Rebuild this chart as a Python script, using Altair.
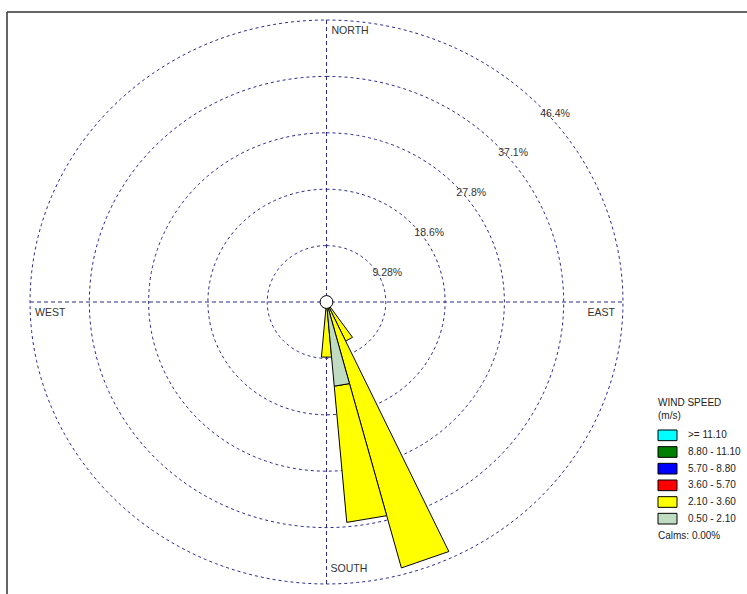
import math
import numpy as np
import pandas as pd
import altair as alt

# ---- data ----
directions = [150, 160, 170, 180]          # sector centre, degrees clockwise from north
speed_050_210 = [0.5, 0.8, 13.9, 0.6]      # % frequency, 0.50 - 2.10 m/s
speed_210_360 = [6.6, 44.5, 22.5, 8.5]     # % frequency, 2.10 - 3.60 m/s
sector_width = 10

ring_values = [9.28, 18.56, 27.84, 37.12, 46.4]
ring_labels = ["9.28%", "18.6%", "27.8%", "37.1%", "46.4%"]

legend_labels = [">= 11.10", "8.80 - 11.10", "5.70 - 8.80", "3.60 - 5.70", "2.10 - 3.60", "0.50 - 2.10"]
legend_colors = ["#00ffff", "#008000", "#0000ff", "#ff0000", "#ffff00", "#c0dcc0"]
legend_title = ["WIND SPEED", "(m/s)"]
calms_text = "Calms: 0.00%"

RMAX = ring_values[-1]
FONT = "Liberation Sans"
GRID = "#2b2b8f"

xs = alt.Scale(domain=[-RMAX, RMAX], nice=False, zero=False)
ys = alt.Scale(domain=[-RMAX, RMAX], nice=False, zero=False)

# ---- wedge polygons ----
rows = []
pid = 0
for d, g, yl in zip(directions, speed_050_210, speed_210_360):
    for b, r0, r1 in [("0.50 - 2.10", 0.0, g), ("2.10 - 3.60", g, g + yl)]:
        a1 = math.radians(d - sector_width / 2)
        a2 = math.radians(d + sector_width / 2)
        pts = [(r0, a1), (r1, a1), (r1, a2), (r0, a2), (r0, a1)]
        for k, (r, a) in enumerate(pts):
            rows.append(dict(poly=pid, bin=b, k=k, x=r * math.sin(a), y=r * math.cos(a)))
        pid += 1
poly_df = pd.DataFrame(rows)


def poly_layer(bin_label, color):
    return alt.Chart(poly_df[poly_df["bin"] == bin_label]).mark_line(
        fill=color, stroke="black", strokeWidth=1, strokeJoin="miter"
    ).encode(
        x=alt.X("x:Q", scale=xs, axis=None),
        y=alt.Y("y:Q", scale=ys, axis=None),
        detail="poly:N",
        order="k:Q",
    )


# ---- rings ----
ang = np.arange(0, 361, 2)
ring_rows = []
for r in ring_values:
    for i, a in enumerate(ang):
        t = math.radians(a)
        ring_rows.append(dict(ring=r, k=i, x=r * math.sin(t), y=r * math.cos(t)))
ring_df = pd.DataFrame(ring_rows)

rings = alt.Chart(ring_df).mark_line(color=GRID, strokeWidth=1, strokeDash=[3, 3]).encode(
    x=alt.X("x:Q", scale=xs, axis=None),
    y=alt.Y("y:Q", scale=ys, axis=None),
    detail="ring:N",
    order="k:Q",
)

axes_df = pd.DataFrame({"x": [-RMAX, 0], "x2": [RMAX, 0], "y": [0, -RMAX], "y2": [0, RMAX]})
axes_lines = alt.Chart(axes_df).mark_rule(color=GRID, strokeWidth=1, strokeDash=[4, 3]).encode(
    x=alt.X("x:Q", scale=xs, axis=None), x2="x2:Q",
    y=alt.Y("y:Q", scale=ys, axis=None), y2="y2:Q",
)

# ---- ring labels along 45 degrees ----
lab_t = math.radians(45)
ring_lab_df = pd.DataFrame({
    "label": ring_labels,
    "x": [r * math.sin(lab_t) for r in ring_values],
    "y": [r * math.cos(lab_t) for r in ring_values],
})
ring_text = alt.Chart(ring_lab_df).mark_text(
    align="left", baseline="middle", dx=4, dy=11, font=FONT, fontSize=10.5, color="#333"
).encode(x=alt.X("x:Q", scale=xs, axis=None), y=alt.Y("y:Q", scale=ys, axis=None), text="label:N")


def dir_text(df, align, dx, dy):
    return alt.Chart(df).mark_text(
        align=align, baseline="middle", dx=dx, dy=dy, font=FONT, fontSize=10.5, color="#333"
    ).encode(x=alt.X("x:Q", scale=xs, axis=None), y=alt.Y("y:Q", scale=ys, axis=None), text="label:N")


nw_df = pd.DataFrame({"label": ["NORTH", "WEST"], "x": [0, -RMAX], "y": [RMAX, 0]})
s_df = pd.DataFrame({"label": ["SOUTH"], "x": [0], "y": [-RMAX]})
e_df = pd.DataFrame({"label": ["EAST"], "x": [RMAX], "y": [0]})

calm_circle = alt.Chart(pd.DataFrame({"x": [0], "y": [0]})).mark_point(
    shape="circle", size=165, filled=True, fill="white", stroke="black", strokeWidth=1, opacity=1
).encode(x=alt.X("x:Q", scale=xs, axis=None), y=alt.Y("y:Q", scale=ys, axis=None))

# ---- legend ----
leg_df = pd.DataFrame({"label": legend_labels, "color": legend_colors})
leg_y = alt.Scale(domain=legend_labels, range=[410, 504], paddingInner=0.36, paddingOuter=0)
swatches = alt.Chart(leg_df).mark_rect(stroke="black", strokeWidth=1).encode(
    x=alt.value(628), x2=alt.value(647),
    y=alt.Y("label:N", sort=None, scale=leg_y, axis=None),
    fill=alt.Fill("color:N", scale=None),
)
swatch_text = alt.Chart(leg_df).mark_text(
    align="left", baseline="middle", font=FONT, fontSize=10, color="#222"
).encode(
    x=alt.value(658),
    y=alt.Y("label:N", sort=None, scale=leg_y, axis=None),
    text="label:N",
)
legend = alt.layer(swatches, swatch_text)

one = pd.DataFrame({"t": [0]})
title1 = alt.Chart(one).mark_text(align="left", baseline="middle", font=FONT, fontSize=10, color="#222",
                                  text=legend_title[0]).encode(x=alt.value(628), y=alt.value(383))
title2 = alt.Chart(one).mark_text(align="left", baseline="middle", font=FONT, fontSize=10, color="#222",
                                  text=legend_title[1]).encode(x=alt.value(628), y=alt.value(396))
calms = alt.Chart(one).mark_text(align="left", baseline="middle", font=FONT, fontSize=10, color="#222",
                                 text=calms_text).encode(x=alt.value(628), y=alt.value(516))

# ---- frame ----
frame_top = alt.Chart(one).mark_rule(color="#333", strokeWidth=1.5).encode(
    x=alt.value(-23), x2=alt.value(717), y=alt.value(-8))
frame_left = alt.Chart(one).mark_rule(color="#333", strokeWidth=1.5).encode(
    x=alt.value(-23), y=alt.value(-8), y2=alt.value(574))

chart = alt.layer(
    frame_top, frame_left,
    rings, axes_lines,
    poly_layer("2.10 - 3.60", "#ffff00"),
    poly_layer("0.50 - 2.10", "#c0dcc0"),
    calm_circle,
    ring_text,
    dir_text(nw_df, "left", 5, 11),
    dir_text(s_df, "left", 4, -15),
    dir_text(e_df, "right", -8, 11),
    legend, title1, title2, calms,
).resolve_scale(y="independent").properties(
    width=593, height=564,
    padding={"left": 30, "top": 20, "right": 124, "bottom": 10},
    autosize=alt.AutoSizeParams(type="none"),
).configure_view(strokeWidth=0)

chart.save("out.html", embed_options={"renderer": "svg", "actions": False})
